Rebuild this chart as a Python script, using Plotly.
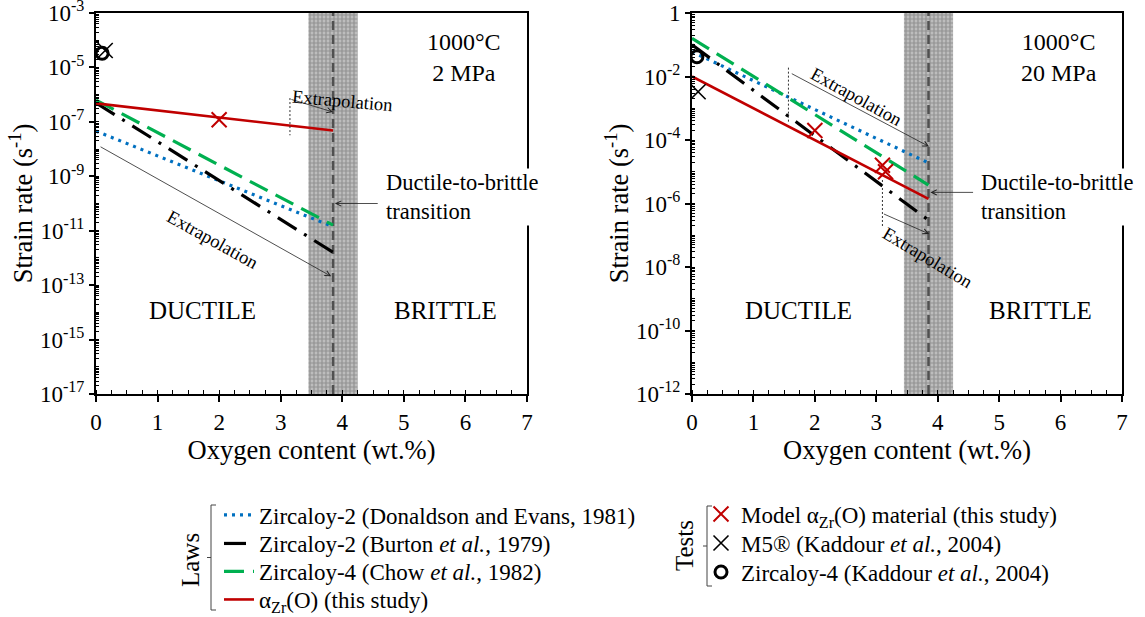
import numpy as np
import plotly.graph_objects as go

# ------------------------------------------------------------------ data
oxygen_law = [0.0, 3.85]                      # wt.% : laws drawn from 0 to the transition
transition_O = 3.85                           # ductile-to-brittle transition (wt.%)
transition_band = [3.45, 4.25]                # shaded uncertainty band (wt.%)

# 1000 °C, 2 MPa  (strain rate, s^-1, at oxygen_law ends)
p2_donaldson = [4.6e-8, 1.4e-11]
p2_burton = [5.0e-7, 1.6e-12]
p2_chow = [6.3e-7, 1.6e-11]
p2_this = [4.8e-7, 4.8e-8]
p2_model_O, p2_model_rate = [2.0], [1.2e-7]
p2_m5_O, p2_m5_rate = [0.15], [4.2e-5]
p2_zy4_O, p2_zy4_rate = [0.10], [3.3e-5]

# 1000 °C, 20 MPa
p20_donaldson = [6.0e-2, 1.9e-5]
p20_burton = [1.0e-1, 3.0e-7]
p20_chow = [1.6e-1, 3.8e-6]
p20_this = [1.0e-2, 1.4e-6]
p20_model_O, p20_model_rate = [2.0, 3.10, 3.15], [2.0e-4, 1.6e-5, 1.0e-5]
p20_m5_O, p20_m5_rate = [0.10], [3.3e-3]
p20_zy4_O, p20_zy4_rate = [0.08], [4.2e-2]

x_ticks = [0, 1, 2, 3, 4, 5, 6, 7]
y2_exps = [-17, -15, -13, -11, -9, -7, -5, -3]
y20_exps = [-12, -10, -8, -6, -4, -2, 0]

laws_names = ["Zircaloy-2 (Donaldson and Evans, 1981)",
              "Zircaloy-2 (Burton <i>et al.</i>, 1979)",
              "Zircaloy-4 (Chow <i>et al.</i>, 1982)",
              "α<sub>Zr</sub>(O) (this study)"]
tests_names = ["Model α<sub>Zr</sub>(O) material (this study)",
               "M5® (Kaddour <i>et al.</i>, 2004)",
               "Zircaloy-4 (Kaddour <i>et al.</i>, 2004)"]

# extrapolation guides (oxygen, strain rate)
p2_guide_up = dict(vx=[3.15, 3.15], vy=[7.5e-7, 3.2e-8], tail=(3.15, 6.9e-7), head=(3.85, 2.3e-7),
                   text=(4.0, 5.8e-7), angle=5)
p2_guide_low = dict(tail=(0.05, 1.3e-8), head=(3.82, 2.1e-13), text=(1.9, 4.5e-12), angle=29)
p20_guide_up = dict(vx=[1.57, 1.57], vy=[1.9e-2, 3.5e-4], tail=(1.6, 1.3e-2), head=(3.86, 6.2e-5),
                    text=(2.68, 2.3e-3), angle=29)
p20_guide_low = dict(vx=[3.1, 3.1], vy=[5.5e-6, 1.8e-7], tail=(3.1, 4.9e-7), head=(3.86, 1.1e-7),
                     text=(3.84, 1.9e-8), angle=31)

# ------------------------------------------------------------------ style
FONT = "Liberation Serif"
W, H = 1145, 617
ML, MR, MT, MB = 96, 23, 13, 223
PW, PH = W - ML - MR, H - MT - MB


def px(xp):
    """page pixel x -> paper fraction"""
    return (xp - ML) / PW


def py(yp):
    """page pixel y -> paper fraction"""
    return (H - MB - yp) / PH


C_BLUE, C_BLACK, C_GREEN, C_RED = "#0070C0", "#000000", "#00B050", "#C00000"
law_styles = [
    dict(color=C_BLUE, width=3.2, dash="3px,5px"),
    dict(color=C_BLACK, width=3.2, dash="22px,9px,3px,9px"),
    dict(color=C_GREEN, width=3.2, dash="20px,9px"),
    dict(color=C_RED, width=2.6, dash="solid"),
]
laws_rows = [515, 543.5, 571.5, 599.5]
tests_rows = [514, 543, 572]

fig = go.Figure()

panels = [
    dict(xa="x", ya="y", laws=[p2_donaldson, p2_burton, p2_chow, p2_this],
         model=(p2_model_O, p2_model_rate), m5=(p2_m5_O, p2_m5_rate), zy4=(p2_zy4_O, p2_zy4_rate),
         yr=(1e-17, 1e-3), legend=True),
    dict(xa="x2", ya="y2", laws=[p20_donaldson, p20_burton, p20_chow, p20_this],
         model=(p20_model_O, p20_model_rate), m5=(p20_m5_O, p20_m5_rate), zy4=(p20_zy4_O, p20_zy4_rate),
         yr=(1e-12, 1.0), legend=False),
]

for p in panels:
    b0, b1 = transition_band
    fig.add_trace(go.Scatter(
        x=[b0, b1, b1, b0, b0], y=[p["yr"][0], p["yr"][0], p["yr"][1], p["yr"][1], p["yr"][0]],
        mode="lines", fill="toself", line=dict(width=0), fillcolor="#a8a8a8",
        fillpattern=dict(shape="+", fgcolor="#666666", bgcolor="#bdbdbd", size=4, solidity=0.5),
        xaxis=p["xa"], yaxis=p["ya"], showlegend=False, hoverinfo="skip"))
    fig.add_trace(go.Scatter(
        x=[transition_O, transition_O], y=list(p["yr"]), mode="lines",
        line=dict(color="#505050", width=2.5, dash="9px,5px"),
        xaxis=p["xa"], yaxis=p["ya"], showlegend=False, hoverinfo="skip"))

legend_ids = ["legend", "legend2", "legend3", "legend4", "legend5", "legend6", "legend7"]

for p in panels:
    for i, (vals, name, st) in enumerate(zip(p["laws"], laws_names, law_styles)):
        fig.add_trace(go.Scatter(
            x=oxygen_law, y=vals, mode="lines", name=name, line=st,
            xaxis=p["xa"], yaxis=p["ya"], legend=legend_ids[i], legendgroup=name,
            showlegend=p["legend"]))
    fig.add_trace(go.Scatter(
        x=p["model"][0], y=p["model"][1], mode="markers", name=tests_names[0],
        marker=dict(symbol="x-thin", size=15, color=C_RED, line=dict(color=C_RED, width=2)),
        xaxis=p["xa"], yaxis=p["ya"], legend=legend_ids[4], legendgroup="t0", showlegend=p["legend"]))
    fig.add_trace(go.Scatter(
        x=p["m5"][0], y=p["m5"][1], mode="markers", name=tests_names[1],
        marker=dict(symbol="x-thin", size=15, color=C_BLACK, line=dict(color=C_BLACK, width=1.6)),
        xaxis=p["xa"], yaxis=p["ya"], legend=legend_ids[5], legendgroup="t1", showlegend=p["legend"]))
    fig.add_trace(go.Scatter(
        x=p["zy4"][0], y=p["zy4"][1], mode="markers", name=tests_names[2],
        marker=dict(symbol="circle-open", size=12, color=C_BLACK, line=dict(color=C_BLACK, width=3)),
        xaxis=p["xa"], yaxis=p["ya"], legend=legend_ids[6], legendgroup="t2", showlegend=p["legend"]))

for g, (xa, ya) in [(p2_guide_up, ("x", "y")), (p20_guide_up, ("x2", "y2")), (p20_guide_low, ("x2", "y2"))]:
    fig.add_trace(go.Scatter(x=g["vx"], y=g["vy"], mode="lines",
                             line=dict(color="#333333", width=1, dash="2px,2px"),
                             xaxis=xa, yaxis=ya, showlegend=False, hoverinfo="skip"))

annotations = []
for g, (xa, ya) in [(p2_guide_up, ("x", "y")), (p2_guide_low, ("x", "y")),
                    (p20_guide_up, ("x2", "y2")), (p20_guide_low, ("x2", "y2"))]:
    annotations.append(dict(
        x=g["head"][0], y=np.log10(g["head"][1]), ax=g["tail"][0], ay=np.log10(g["tail"][1]),
        xref=xa, yref=ya, axref=xa, ayref=ya, text="", showarrow=True,
        arrowhead=5, arrowsize=1.3, arrowwidth=0.8, arrowcolor="#222222"))
    annotations.append(dict(
        x=g["text"][0], y=np.log10(g["text"][1]), xref=xa, yref=ya, text="Extrapolation",
        xanchor="center", yanchor="middle",
        textangle=g["angle"], showarrow=False, font=dict(family=FONT, size=18.5, color="black")))

for xa, ya, mpa in [("x", "y", "2 MPa"), ("x2", "y2", "20 MPa")]:
    common = dict(xref=f"{xa} domain", yref=f"{ya} domain", showarrow=False, yanchor="middle")
    annotations += [
        dict(common, x=0.853, y=0.884, xanchor="center", text=f"1000°C<br>{mpa}",
             font=dict(family=FONT, size=24, color="black")),
        dict(common, x=0.248, y=0.218, xanchor="center", text="DUCTILE",
             font=dict(family=FONT, size=25, color="black")),
        dict(common, x=0.81, y=0.218, xanchor="center", text="BRITTLE",
             font=dict(family=FONT, size=25, color="black")),
        dict(common, x=0.668, y=0.516, xanchor="left", align="left",
             text="Ductile-to-brittle<br>transition", bgcolor="white",
             font=dict(family=FONT, size=22.5, color="black")),
    ]
annotations += [
    dict(x=transition_O + 0.03, y=-10.0, ax=4.6, ay=-10.0, xref="x", yref="y", axref="x", ayref="y",
         text="", showarrow=True, arrowhead=5, arrowsize=1.3, arrowwidth=0.8, arrowcolor="#222222"),
    dict(x=transition_O + 0.03, y=-5.65, ax=4.6, ay=-5.65, xref="x2", yref="y2", axref="x2", ayref="y2",
         text="", showarrow=True, arrowhead=5, arrowsize=1.3, arrowwidth=0.8, arrowcolor="#222222"),
]

annotations += [
    dict(x=px(190), y=py(560), xref="paper", yref="paper", text="Laws", textangle=-90,
         xanchor="center", yanchor="middle", showarrow=False,
         font=dict(family=FONT, size=25, color="black")),
    dict(x=px(684), y=py(546), xref="paper", yref="paper", text="Tests", textangle=-90,
         xanchor="center", yanchor="middle", showarrow=False,
         font=dict(family=FONT, size=25, color="black")),
]

shapes = []
for xb, y0, y1 in [(211, 505, 610), (707, 506, 586)]:
    ym = (y0 + y1) / 2
    path = (f"M {px(xb + 5)},{py(y0)} L {px(xb)},{py(y0)} L {px(xb)},{py(y1)} L {px(xb + 5)},{py(y1)} "
            f"M {px(xb)},{py(ym)} L {px(xb - 4)},{py(ym)}")
    shapes.append(dict(type="path", path=path, xref="paper", yref="paper",
                       line=dict(color="#444444", width=1)))


def minor_vals(e0, e1):
    out = []
    for e in range(e0, e1):
        out += [k * 10.0 ** e for k in range(1, 10)]
    return out


axis_common = dict(showline=True, linecolor="black", linewidth=2, mirror=True, showgrid=False,
                   zeroline=False, tickfont=dict(family=FONT, size=23, color="black"),
                   tickcolor="black", ticks="outside", automargin=False, ticklabeloverflow="allow")
xaxis_common = dict(axis_common, range=[0, 7], tickvals=x_ticks, ticklen=6, tickwidth=1.5,
                    minor=dict(ticks="inside", dtick=0.25, tick0=0, ticklen=4, tickwidth=1,
                               tickcolor="black", showgrid=False),
                    title=dict(text="Oxygen content (wt.%)", standoff=6,
                               font=dict(family=FONT, size=26.5, color="black")))
ytitle = dict(text="Strain rate (s<sup>-1</sup>)", standoff=0, font=dict(family=FONT, size=26.5, color="black"))

legends = {}
for lid, row in zip(legend_ids[:4], laws_rows):
    legends[lid] = dict(x=px(219), y=py(row), xanchor="left", yanchor="middle", bgcolor="rgba(0,0,0,0)",
                        font=dict(family=FONT, size=23, color="black"), itemwidth=30)
for lid, row in zip(legend_ids[4:], tests_rows):
    legends[lid] = dict(x=px(701), y=py(row), xanchor="left", yanchor="middle", bgcolor="rgba(0,0,0,0)",
                        font=dict(family=FONT, size=23, color="black"), itemwidth=30)

fig.update_layout(
    width=W, height=H, margin=dict(l=ML, r=MR, t=MT, b=MB, autoexpand=False),
    paper_bgcolor="white", plot_bgcolor="white",
    xaxis=dict(xaxis_common, domain=[0, px(527)], anchor="y"),
    xaxis2=dict(xaxis_common, domain=[px(692), 1], anchor="y2"),
    yaxis=dict(axis_common, type="log", range=[-17, -3], anchor="x",
               tickvals=[10.0 ** e for e in y2_exps], ticktext=[f"10<sup>{e}</sup>" for e in y2_exps],
               ticklen=5, tickwidth=1.5,
               minor=dict(tickmode="array", tickvals=minor_vals(-17, -3), ticks="inside", ticklen=3,
                          tickwidth=1, tickcolor="black", showgrid=False),
               title=ytitle),
    yaxis2=dict(axis_common, type="log", range=[-12, 0], anchor="x2",
                tickvals=[10.0 ** e for e in y20_exps],
                ticktext=["1" if e == 0 else f"10<sup>{e}</sup>" for e in y20_exps],
                ticklen=5, tickwidth=1.5,
                minor=dict(tickmode="array", tickvals=minor_vals(-12, 0), ticks="inside", ticklen=3,
                           tickwidth=1, tickcolor="black", showgrid=False),
                title=ytitle),
    annotations=annotations, shapes=shapes, showlegend=True,
    **legends,
)

# place the figure at the very top-left of the page (no default body margin)
fig.write_html("out.html", config={"displayModeBar": False},
               post_script="document.body.style.margin='0px';")
